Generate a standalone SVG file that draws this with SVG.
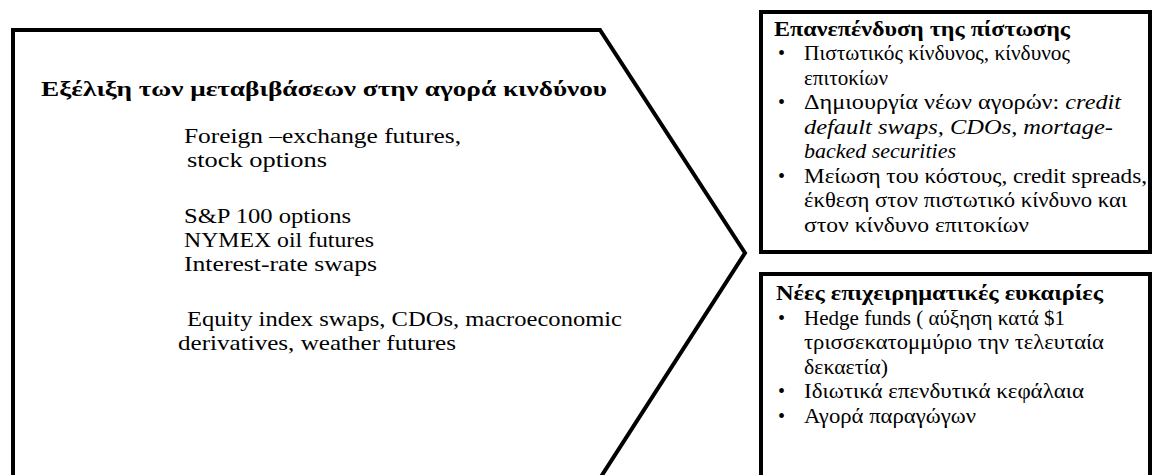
<svg xmlns="http://www.w3.org/2000/svg" width="1153" height="475" viewBox="0 0 1153 475">
<style>
  .shape { fill: #ffffff; stroke: #000000; stroke-width: 4; stroke-linejoin: miter; }
  text { font-family: "Liberation Serif", "Times New Roman", serif; fill: #000000; }
  .l { font-size: 21px; }
  .r { font-size: 20px; }
  .title { font-weight: bold; }
  .it { font-style: italic; }
</style>
<rect width="1153" height="475" fill="#ffffff"/>
<g id="connectors"></g>
<g id="node-evolution">
  <path class="shape" d="M13,500 V30 H600 L745,253 L586,500"/>
  <text class="l title" x="41" y="96" textLength="566" lengthAdjust="spacingAndGlyphs">Εξέλιξη των μεταβιβάσεων στην αγορά κινδύνου</text>
  <text class="l" x="184" y="143" textLength="277" lengthAdjust="spacingAndGlyphs">Foreign –exchange futures,</text>
  <text class="l" x="187" y="167" textLength="140" lengthAdjust="spacingAndGlyphs">stock options</text>
  <text class="l" x="184" y="223" textLength="167" lengthAdjust="spacingAndGlyphs">S&amp;P 100 options</text>
  <text class="l" x="184" y="247" textLength="190" lengthAdjust="spacingAndGlyphs">NYMEX oil futures</text>
  <text class="l" x="184" y="271" textLength="193" lengthAdjust="spacingAndGlyphs">Interest-rate swaps</text>
  <text class="l" x="187" y="326" textLength="435" lengthAdjust="spacingAndGlyphs">Equity index swaps, CDOs, macroeconomic</text>
  <text class="l" x="178" y="350" textLength="278" lengthAdjust="spacingAndGlyphs">derivatives, weather futures</text>
</g>
<g id="node-reinvestment">
  <rect class="shape" x="761" y="12" width="389" height="240"/>
  <text class="r title" x="774" y="36" textLength="296" lengthAdjust="spacingAndGlyphs">Επανεπένδυση της πίστωσης</text>
  <text class="r" x="778" y="60">•</text>
  <text class="r" x="804" y="60" textLength="266" lengthAdjust="spacingAndGlyphs">Πιστωτικός κίνδυνος, κίνδυνος</text>
  <text class="r" x="804" y="84.5" textLength="84" lengthAdjust="spacingAndGlyphs">επιτοκίων</text>
  <text class="r" x="778" y="109">•</text>
  <text class="r" x="804" y="109" textLength="317" lengthAdjust="spacingAndGlyphs">Δημιουργία νέων αγορών: <tspan class="it">credit</tspan></text>
  <text class="r it" x="804" y="133.5" textLength="309" lengthAdjust="spacingAndGlyphs">default swaps, CDOs, mortage-</text>
  <text class="r it" x="804" y="158" textLength="152" lengthAdjust="spacingAndGlyphs">backed securities</text>
  <text class="r" x="778" y="182.5">•</text>
  <text class="r" x="804" y="182.5" textLength="343" lengthAdjust="spacingAndGlyphs">Μείωση του κόστους, credit spreads,</text>
  <text class="r" x="804" y="207" textLength="323" lengthAdjust="spacingAndGlyphs">έκθεση στον πιστωτικό κίνδυνο και</text>
  <text class="r" x="804" y="231.5" textLength="225" lengthAdjust="spacingAndGlyphs">στον κίνδυνο επιτοκίων</text>
</g>
<g id="node-opportunities">
  <rect class="shape" x="761" y="274" width="389" height="240"/>
  <text class="r title" x="776" y="300" textLength="327" lengthAdjust="spacingAndGlyphs">Νέες επιχειρηματικές ευκαιρίες</text>
  <text class="r" x="778" y="324.5">•</text>
  <text class="r" x="804" y="324.5" textLength="261" lengthAdjust="spacingAndGlyphs">Hedge funds ( αύξηση κατά $1</text>
  <text class="r" x="804" y="349" textLength="300" lengthAdjust="spacingAndGlyphs">τρισσεκατομμύριο την τελευταία</text>
  <text class="r" x="804" y="373.5" textLength="84" lengthAdjust="spacingAndGlyphs">δεκαετία)</text>
  <text class="r" x="778" y="398">•</text>
  <text class="r" x="804" y="398" textLength="280" lengthAdjust="spacingAndGlyphs">Ιδιωτικά επενδυτικά κεφάλαια</text>
  <text class="r" x="778" y="422.5">•</text>
  <text class="r" x="804" y="422.5" textLength="172" lengthAdjust="spacingAndGlyphs">Αγορά παραγώγων</text>
</g>
</svg>
